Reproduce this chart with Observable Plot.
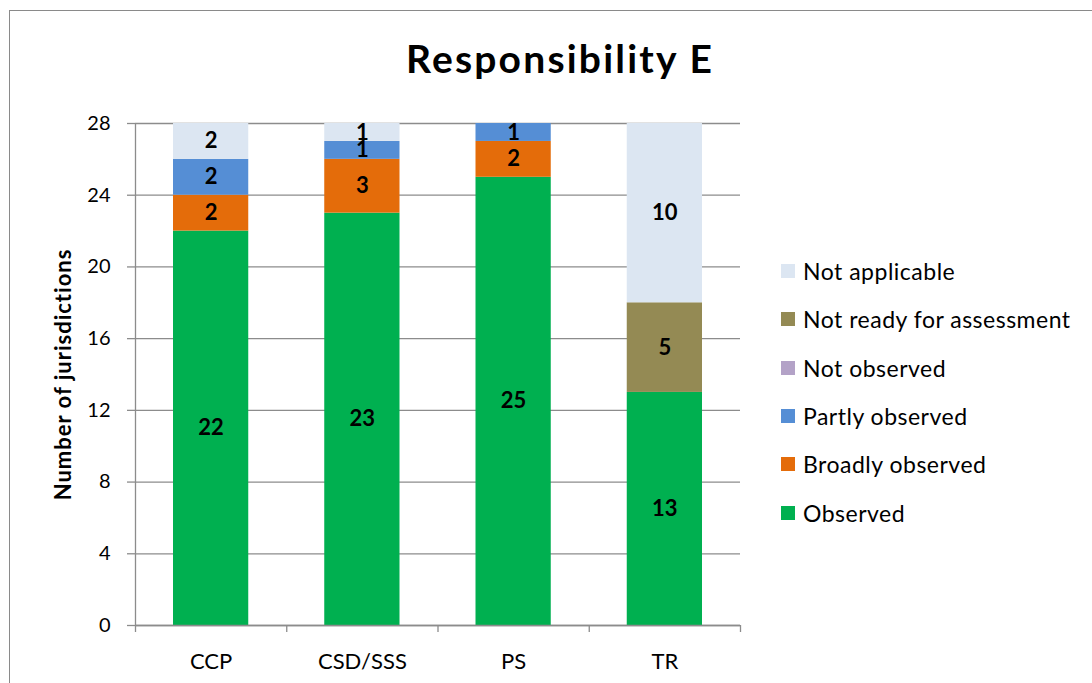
<!DOCTYPE html>
<html><head><meta charset="utf-8">
<script src="https://cdn.jsdelivr.net/npm/d3@7"></script>
<script src="https://cdn.jsdelivr.net/npm/@observablehq/plot@0.6"></script>
<style>
html,body{margin:0;padding:0;background:#fff;overflow:hidden;}
#wrap{position:relative;width:1092px;height:683px;font-family:Lato,"Open Sans",sans-serif;color:#000;}
#frame{position:absolute;left:9px;top:10px;width:1200px;height:800px;border:1.5px solid #8a8a8a;}
#title{position:absolute;left:0;width:1120px;top:37px;line-height:42px;text-align:center;font-weight:bold;font-size:39px;letter-spacing:2.2px;}
#chart{position:absolute;left:0;top:100px;}
#legend{position:absolute;left:781px;top:0;}
.item{position:absolute;left:0;white-space:nowrap;font-size:23px;letter-spacing:0.5px;line-height:24px;height:24px;}
.sw{position:absolute;left:0;top:5px;width:14px;height:14px;}
.lab{position:absolute;left:22px;top:0;}
</style></head>
<body><div id="wrap"><div id="frame"></div><div id="title">Responsibility E</div><div id="chart"></div><div id="legend"></div></div>
<script>
const categories = ["CCP", "CSD/SSS", "PS", "TR"];
const statuses = ["Observed", "Broadly observed", "Partly observed", "Not observed", "Not ready for assessment", "Not applicable"];
const observed = [22, 23, 25, 13];
const broadlyObserved = [2, 3, 2, 0];
const partlyObserved = [2, 1, 1, 0];
const notObserved = [0, 0, 0, 0];
const notReady = [0, 0, 0, 5];
const notApplicable = [2, 1, 0, 10];
const yTicks = [0, 4, 8, 12, 16, 20, 24, 28];
const colors = ["#00B050", "#E46C0A", "#558ED5", "#B3A2C7", "#948A54", "#DCE6F2"];

const series = [observed, broadlyObserved, partlyObserved, notObserved, notReady, notApplicable];
const rows = [];
categories.forEach((c, i) => {
  let acc = 0;
  statuses.forEach((s, j) => {
    const v = series[j][i];
    rows.push({cat: c, i, status: s, value: v, y1: acc, y2: acc + v});
    acc += v;
  });
});
const shown = rows.filter(d => d.value > 0);
const gray = "#8c8c8c";

const chart = Plot.plot({
  width: 760, height: 583,
  marginTop: 23, marginBottom: 58, marginLeft: 135, marginRight: 20,
  style: {fontFamily: "Lato, 'Open Sans', sans-serif", fontSize: "20px", color: "#000", background: "transparent", overflow: "visible"},
  x: {domain: [0, categories.length], axis: null},
  y: {domain: [0, 28], axis: null},
  color: {domain: statuses, range: colors},
  marks: [
    Plot.gridY({ticks: yTicks, stroke: gray, strokeOpacity: 1, strokeWidth: 1.3}),
    Plot.axisY({ticks: yTicks, tickSize: 8, tickPadding: 17, stroke: gray, strokeWidth: 1.3, label: null, fontSize: 20, fill: "#000"}),
    Plot.axisX({ticks: d3.range(categories.length + 1), tickSize: 7, tickFormat: () => "", stroke: gray, strokeWidth: 1.3, label: null}),
    Plot.axisX({ticks: categories.map((c, i) => i + 0.5), tickSize: 0, tickPadding: 28, tickFormat: v => categories[Math.round(v - 0.5)], label: null, fontSize: 22, fill: "#000"}),
    Plot.rect(shown, {x1: "i", x2: d => d.i + 1, y1: "y1", y2: "y2", fill: "status", insetLeft: 38, insetRight: 38}),
    Plot.ruleX([0], {stroke: gray, strokeWidth: 1.3}),
    Plot.ruleY([0], {stroke: gray, strokeWidth: 1.3}),
    Plot.text(shown, {x: d => d.i + 0.5, y: d => (d.y1 + d.y2) / 2, text: d => String(d.value), fontWeight: "bold", fontSize: 22, fill: "#000"}),
    Plot.text(["Number of jurisdictions"], {frameAnchor: "left", textAnchor: "middle", rotate: -90, dx: -72, fontWeight: "bold", fontSize: 22, fill: "#000"})
  ]
});
document.getElementById("chart").appendChild(chart);
chart.querySelectorAll("text").forEach(t => { if (t.textContent === "Number of jurisdictions") t.style.letterSpacing = "1px"; });

const legend = document.getElementById("legend");
const legendOrder = statuses.slice().reverse();
legendOrder.forEach((s, k) => {
  const it = document.createElement("div");
  it.className = "item";
  it.style.top = (259 + k * 48.3) + "px";
  const sw = document.createElement("div");
  sw.className = "sw";
  sw.style.background = colors[statuses.indexOf(s)];
  const lab = document.createElement("div");
  lab.className = "lab";
  lab.textContent = s;
  it.appendChild(sw); it.appendChild(lab);
  legend.appendChild(it);
});
</script></body></html>
